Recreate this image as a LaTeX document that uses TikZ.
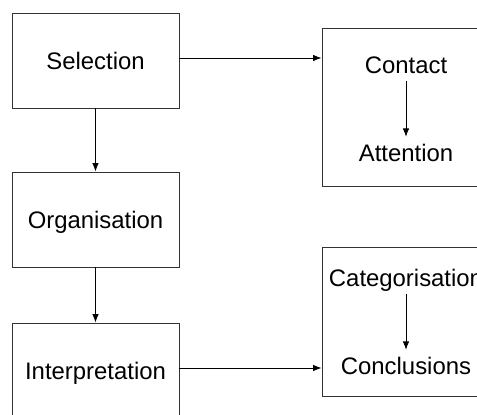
\documentclass[tikz,border=0pt]{standalone}
\usepackage{fontspec}
\setmainfont{Liberation Sans}
\usetikzlibrary{arrows.meta}
\begin{document}
\begin{tikzpicture}[x=0.02cm, y=-0.02cm, line width=0.5pt,
  every node/.style={font=\fontsize{13.6}{16}\selectfont, text depth=0pt},
  stagebox/.style={draw=black!80, minimum width=3.34cm, minimum height=1.9cm},
  groupbox/.style={draw=black!80, minimum width=3.34cm},
  flow/.style={-{Latex[length=1.7mm,width=1.3mm]}},
  inner/.style={inner sep=4pt}]
\useasboundingbox (0,0) rectangle (477,415);
\clip (0,0) rectangle (477,415);

% Draw stages
\node[stagebox] (sel) at (95.5,60.5) {Selection};
\node[stagebox] (org) at (95.5,219.5) {Organisation};
\node[stagebox] (intp) at (95.5,370.5) {Interpretation};

% Draw groups on the right
\node[groupbox, minimum height=3.16cm] (cbox) at (405.5,107) {};
\node[groupbox, minimum height=2.98cm] (kbox) at (405.5,321.5) {};
\node[inner] (cont) at (406,65) {Contact};
\node[inner] (att) at (406,153) {Attention};
\node[inner] (cat) at (406,278) {Categorisation};
\node[inner] (conc) at (406,366) {Conclusions};

% Arrows
\draw[flow] (sel) -- (org);
\draw[flow] (org) -- (intp);
\draw[flow] ([yshift=0.05cm]sel.east) -- ([yshift=0.05cm]sel.east -| cbox.west);
\draw[flow] ([yshift=0.05cm]intp.east) -- ([yshift=0.05cm]intp.east -| kbox.west);
\draw[flow] (cont) -- (att);
\draw[flow] (cat) -- (conc);
\end{tikzpicture}
\end{document}
